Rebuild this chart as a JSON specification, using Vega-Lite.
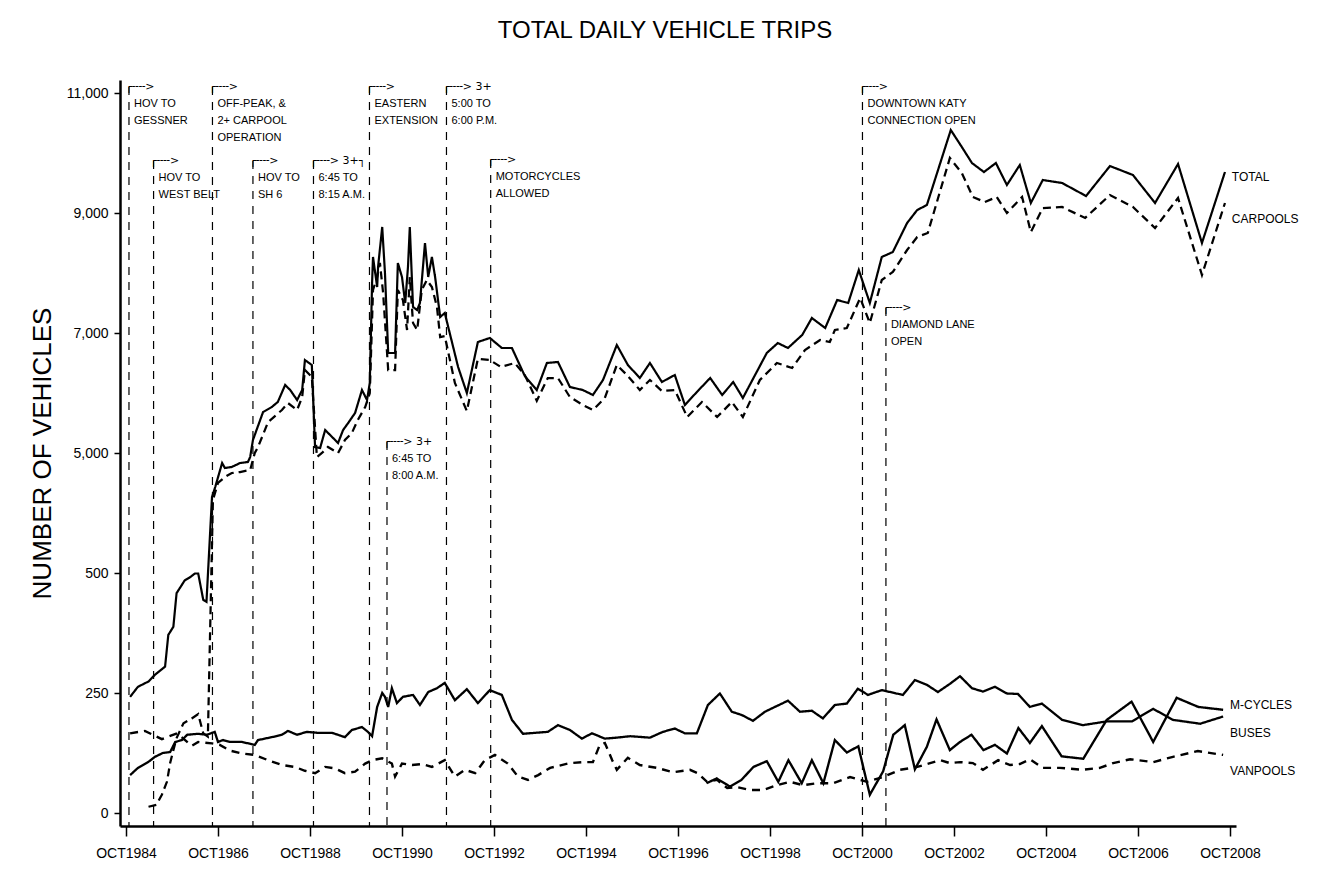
{
  "$schema": "https://vega.github.io/schema/vega-lite/v6.json",
  "width": 1116,
  "height": 746,
  "autosize": {"type": "none"},
  "padding": {"left": 120, "top": 80, "right": 87, "bottom": 47},
  "background": "white",
  "config": {"view": {"stroke": null}, "font": "Liberation Sans", "axis": {"grid": false}},
  "title": {"text": "TOTAL DAILY VEHICLE TRIPS", "fontSize": 24, "fontWeight": "normal", "font": "Liberation Sans", "color": "black", "anchor": "middle", "frame": "group", "dx": -13, "offset": 37},
  "datasets": {
    "annotations": [
      {"year": 1984.815, "top": 11100, "head": "┌╌╌>", "text": "HOV TO\nGESSNER"},
      {"year": 1985.35, "top": 9867, "head": "┌╌╌>", "text": "HOV TO\nWEST BELT"},
      {"year": 1986.63, "top": 11100, "head": "┌╌╌>", "text": "OFF-PEAK, &\n2+ CARPOOL\nOPERATION"},
      {"year": 1987.51, "top": 9867, "head": "┌╌╌>", "text": "HOV TO\nSH 6"},
      {"year": 1988.826, "top": 9867, "head": "┌╌╌> 3+┐", "text": "6:45 TO\n8:15 A.M."},
      {"year": 1990.043, "top": 11100, "head": "┌╌╌>", "text": "EASTERN\nEXTENSION"},
      {"year": 1990.424, "top": 5183, "head": "┌╌╌> 3+", "text": "6:45 TO\n8:00 A.M."},
      {"year": 1991.717, "top": 11100, "head": "┌╌╌> 3+", "text": "5:00 TO\n6:00 P.M."},
      {"year": 1992.678, "top": 9883, "head": "┌╌╌>", "text": "MOTORCYCLES\nALLOWED"},
      {"year": 2000.76, "top": 11100, "head": "┌╌╌>", "text": "DOWNTOWN  KATY\nCONNECTION OPEN"},
      {"year": 2001.27, "top": 7417, "head": "┌╌╌>", "text": "DIAMOND LANE\nOPEN"}
    ],
    "labels": [
      {"label": "TOTAL", "year": 2008.79, "count": 9600},
      {"label": "CARPOOLS", "year": 2008.79, "count": 8900},
      {"label": "M-CYCLES", "year": 2008.75, "count": 225},
      {"label": "BUSES", "year": 2008.75, "count": 167},
      {"label": "VANPOOLS", "year": 2008.75, "count": 88}
    ],
    "series": [
      {"series": "Total", "year": 1984.84, "count": 242},
      {"series": "Total", "year": 1985.01, "count": 263},
      {"series": "Total", "year": 1985.24, "count": 274},
      {"series": "Total", "year": 1985.38, "count": 288},
      {"series": "Total", "year": 1985.6, "count": 305},
      {"series": "Total", "year": 1985.67, "count": 371},
      {"series": "Total", "year": 1985.78, "count": 388},
      {"series": "Total", "year": 1985.85, "count": 458},
      {"series": "Total", "year": 1986.03, "count": 485},
      {"series": "Total", "year": 1986.14, "count": 491},
      {"series": "Total", "year": 1986.25, "count": 499},
      {"series": "Total", "year": 1986.32, "count": 499},
      {"series": "Total", "year": 1986.43, "count": 444},
      {"series": "Total", "year": 1986.5, "count": 440},
      {"series": "Total", "year": 1986.62, "count": 4267},
      {"series": "Total", "year": 1986.69, "count": 4433},
      {"series": "Total", "year": 1986.84, "count": 4833},
      {"series": "Total", "year": 1986.9, "count": 4750},
      {"series": "Total", "year": 1987.05, "count": 4767},
      {"series": "Total", "year": 1987.23, "count": 4833},
      {"series": "Total", "year": 1987.4, "count": 4850},
      {"series": "Total", "year": 1987.45, "count": 4933},
      {"series": "Total", "year": 1987.51, "count": 5217},
      {"series": "Total", "year": 1987.73, "count": 5683},
      {"series": "Total", "year": 1987.92, "count": 5767},
      {"series": "Total", "year": 1988.05, "count": 5850},
      {"series": "Total", "year": 1988.21, "count": 6133},
      {"series": "Total", "year": 1988.32, "count": 6050},
      {"series": "Total", "year": 1988.47, "count": 5883},
      {"series": "Total", "year": 1988.58, "count": 6050},
      {"series": "Total", "year": 1988.64, "count": 6550},
      {"series": "Total", "year": 1988.79, "count": 6467},
      {"series": "Total", "year": 1988.86, "count": 5100},
      {"series": "Total", "year": 1988.97, "count": 5083},
      {"series": "Total", "year": 1989.08, "count": 5383},
      {"series": "Total", "year": 1989.23, "count": 5267},
      {"series": "Total", "year": 1989.36, "count": 5167},
      {"series": "Total", "year": 1989.47, "count": 5383},
      {"series": "Total", "year": 1989.58, "count": 5500},
      {"series": "Total", "year": 1989.73, "count": 5667},
      {"series": "Total", "year": 1989.88, "count": 6050},
      {"series": "Total", "year": 1989.99, "count": 5883},
      {"series": "Total", "year": 1990.05, "count": 6167},
      {"series": "Total", "year": 1990.1, "count": 7833},
      {"series": "Total", "year": 1990.12, "count": 8267},
      {"series": "Total", "year": 1990.21, "count": 7767},
      {"series": "Total", "year": 1990.23, "count": 8100},
      {"series": "Total", "year": 1990.32, "count": 8767},
      {"series": "Total", "year": 1990.38, "count": 8000},
      {"series": "Total", "year": 1990.45, "count": 6667},
      {"series": "Total", "year": 1990.6, "count": 6667},
      {"series": "Total", "year": 1990.66, "count": 8167},
      {"series": "Total", "year": 1990.75, "count": 7933},
      {"series": "Total", "year": 1990.82, "count": 7500},
      {"series": "Total", "year": 1990.88, "count": 8100},
      {"series": "Total", "year": 1990.92, "count": 8767},
      {"series": "Total", "year": 1990.99, "count": 7433},
      {"series": "Total", "year": 1991.08, "count": 7383},
      {"series": "Total", "year": 1991.14, "count": 7500},
      {"series": "Total", "year": 1991.25, "count": 8500},
      {"series": "Total", "year": 1991.32, "count": 7933},
      {"series": "Total", "year": 1991.4, "count": 8267},
      {"series": "Total", "year": 1991.47, "count": 7933},
      {"series": "Total", "year": 1991.58, "count": 7267},
      {"series": "Total", "year": 1991.68, "count": 7333},
      {"series": "Total", "year": 1991.97, "count": 6433},
      {"series": "Total", "year": 1992.16, "count": 6000},
      {"series": "Total", "year": 1992.4, "count": 6850},
      {"series": "Total", "year": 1992.66, "count": 6917},
      {"series": "Total", "year": 1992.92, "count": 6750},
      {"series": "Total", "year": 1993.14, "count": 6750},
      {"series": "Total", "year": 1993.42, "count": 6283},
      {"series": "Total", "year": 1993.68, "count": 6050},
      {"series": "Total", "year": 1993.9, "count": 6500},
      {"series": "Total", "year": 1994.14, "count": 6517},
      {"series": "Total", "year": 1994.4, "count": 6100},
      {"series": "Total", "year": 1994.68, "count": 6050},
      {"series": "Total", "year": 1994.9, "count": 5967},
      {"series": "Total", "year": 1995.12, "count": 6217},
      {"series": "Total", "year": 1995.42, "count": 6800},
      {"series": "Total", "year": 1995.66, "count": 6467},
      {"series": "Total", "year": 1995.92, "count": 6250},
      {"series": "Total", "year": 1996.14, "count": 6500},
      {"series": "Total", "year": 1996.4, "count": 6183},
      {"series": "Total", "year": 1996.68, "count": 6300},
      {"series": "Total", "year": 1996.9, "count": 5800},
      {"series": "Total", "year": 1997.16, "count": 6017},
      {"series": "Total", "year": 1997.45, "count": 6250},
      {"series": "Total", "year": 1997.71, "count": 5967},
      {"series": "Total", "year": 1997.95, "count": 6183},
      {"series": "Total", "year": 1998.16, "count": 5917},
      {"series": "Total", "year": 1998.68, "count": 6667},
      {"series": "Total", "year": 1998.92, "count": 6833},
      {"series": "Total", "year": 1999.14, "count": 6750},
      {"series": "Total", "year": 1999.45, "count": 6967},
      {"series": "Total", "year": 1999.66, "count": 7250},
      {"series": "Total", "year": 1999.95, "count": 7083},
      {"series": "Total", "year": 2000.21, "count": 7550},
      {"series": "Total", "year": 2000.45, "count": 7500},
      {"series": "Total", "year": 2000.68, "count": 8050},
      {"series": "Total", "year": 2000.92, "count": 7500},
      {"series": "Total", "year": 2001.18, "count": 8267},
      {"series": "Total", "year": 2001.42, "count": 8350},
      {"series": "Total", "year": 2001.73, "count": 8833},
      {"series": "Total", "year": 2001.95, "count": 9050},
      {"series": "Total", "year": 2002.16, "count": 9133},
      {"series": "Total", "year": 2002.68, "count": 10383},
      {"series": "Total", "year": 2002.92, "count": 10100},
      {"series": "Total", "year": 2003.14, "count": 9833},
      {"series": "Total", "year": 2003.4, "count": 9683},
      {"series": "Total", "year": 2003.66, "count": 9833},
      {"series": "Total", "year": 2003.9, "count": 9467},
      {"series": "Total", "year": 2004.18, "count": 9800},
      {"series": "Total", "year": 2004.42, "count": 9167},
      {"series": "Total", "year": 2004.68, "count": 9550},
      {"series": "Total", "year": 2005.1, "count": 9500},
      {"series": "Total", "year": 2005.62, "count": 9283},
      {"series": "Total", "year": 2006.14, "count": 9783},
      {"series": "Total", "year": 2006.64, "count": 9633},
      {"series": "Total", "year": 2007.12, "count": 9167},
      {"series": "Total", "year": 2007.62, "count": 9817},
      {"series": "Total", "year": 2008.14, "count": 8500},
      {"series": "Total", "year": 2008.64, "count": 9683},

      {"series": "Carpools", "year": 1985.24, "count": 13},
      {"series": "Carpools", "year": 1985.41, "count": 17},
      {"series": "Carpools", "year": 1985.53, "count": 38},
      {"series": "Carpools", "year": 1985.64, "count": 65},
      {"series": "Carpools", "year": 1985.71, "count": 104},
      {"series": "Carpools", "year": 1985.78, "count": 131},
      {"series": "Carpools", "year": 1985.85, "count": 156},
      {"series": "Carpools", "year": 1986.0, "count": 187},
      {"series": "Carpools", "year": 1986.18, "count": 197},
      {"series": "Carpools", "year": 1986.32, "count": 206},
      {"series": "Carpools", "year": 1986.43, "count": 166},
      {"series": "Carpools", "year": 1986.53, "count": 159},
      {"series": "Carpools", "year": 1986.64, "count": 4217},
      {"series": "Carpools", "year": 1986.75, "count": 4500},
      {"series": "Carpools", "year": 1986.9, "count": 4600},
      {"series": "Carpools", "year": 1987.05, "count": 4667},
      {"series": "Carpools", "year": 1987.23, "count": 4683},
      {"series": "Carpools", "year": 1987.45, "count": 4717},
      {"series": "Carpools", "year": 1987.55, "count": 5000},
      {"series": "Carpools", "year": 1987.62, "count": 5100},
      {"series": "Carpools", "year": 1987.84, "count": 5517},
      {"series": "Carpools", "year": 1988.14, "count": 5717},
      {"series": "Carpools", "year": 1988.27, "count": 5833},
      {"series": "Carpools", "year": 1988.47, "count": 5717},
      {"series": "Carpools", "year": 1988.58, "count": 5933},
      {"series": "Carpools", "year": 1988.64, "count": 6383},
      {"series": "Carpools", "year": 1988.79, "count": 6267},
      {"series": "Carpools", "year": 1988.9, "count": 4933},
      {"series": "Carpools", "year": 1989.01, "count": 5000},
      {"series": "Carpools", "year": 1989.14, "count": 5100},
      {"series": "Carpools", "year": 1989.36, "count": 5000},
      {"series": "Carpools", "year": 1989.51, "count": 5217},
      {"series": "Carpools", "year": 1989.66, "count": 5333},
      {"series": "Carpools", "year": 1989.79, "count": 5550},
      {"series": "Carpools", "year": 1989.95, "count": 5767},
      {"series": "Carpools", "year": 1990.05, "count": 6000},
      {"series": "Carpools", "year": 1990.12, "count": 7717},
      {"series": "Carpools", "year": 1990.21, "count": 7933},
      {"series": "Carpools", "year": 1990.27, "count": 8167},
      {"series": "Carpools", "year": 1990.34, "count": 7667},
      {"series": "Carpools", "year": 1990.45, "count": 6383},
      {"series": "Carpools", "year": 1990.6, "count": 6383},
      {"series": "Carpools", "year": 1990.66, "count": 7717},
      {"series": "Carpools", "year": 1990.77, "count": 7550},
      {"series": "Carpools", "year": 1990.86, "count": 7050},
      {"series": "Carpools", "year": 1990.92, "count": 7933},
      {"series": "Carpools", "year": 1990.99, "count": 7167},
      {"series": "Carpools", "year": 1991.08, "count": 7050},
      {"series": "Carpools", "year": 1991.18, "count": 7717},
      {"series": "Carpools", "year": 1991.29, "count": 7883},
      {"series": "Carpools", "year": 1991.4, "count": 7767},
      {"series": "Carpools", "year": 1991.51, "count": 7433},
      {"series": "Carpools", "year": 1991.58, "count": 6933},
      {"series": "Carpools", "year": 1991.68, "count": 6950},
      {"series": "Carpools", "year": 1991.9, "count": 6167},
      {"series": "Carpools", "year": 1992.16, "count": 5700},
      {"series": "Carpools", "year": 1992.4, "count": 6570},
      {"series": "Carpools", "year": 1992.66, "count": 6550},
      {"series": "Carpools", "year": 1992.9, "count": 6433},
      {"series": "Carpools", "year": 1993.2, "count": 6500},
      {"series": "Carpools", "year": 1993.42, "count": 6300},
      {"series": "Carpools", "year": 1993.68, "count": 5870},
      {"series": "Carpools", "year": 1993.92, "count": 6250},
      {"series": "Carpools", "year": 1994.14, "count": 6250},
      {"series": "Carpools", "year": 1994.4, "count": 5933},
      {"series": "Carpools", "year": 1994.68, "count": 5800},
      {"series": "Carpools", "year": 1994.9, "count": 5717},
      {"series": "Carpools", "year": 1995.16, "count": 5917},
      {"series": "Carpools", "year": 1995.42, "count": 6467},
      {"series": "Carpools", "year": 1995.64, "count": 6300},
      {"series": "Carpools", "year": 1995.92, "count": 6050},
      {"series": "Carpools", "year": 1996.14, "count": 6217},
      {"series": "Carpools", "year": 1996.4, "count": 6033},
      {"series": "Carpools", "year": 1996.68, "count": 6050},
      {"series": "Carpools", "year": 1996.95, "count": 5600},
      {"series": "Carpools", "year": 1997.27, "count": 5850},
      {"series": "Carpools", "year": 1997.6, "count": 5600},
      {"series": "Carpools", "year": 1997.92, "count": 5850},
      {"series": "Carpools", "year": 1998.16, "count": 5600},
      {"series": "Carpools", "year": 1998.53, "count": 6217},
      {"series": "Carpools", "year": 1998.9, "count": 6500},
      {"series": "Carpools", "year": 1999.23, "count": 6417},
      {"series": "Carpools", "year": 1999.51, "count": 6717},
      {"series": "Carpools", "year": 1999.84, "count": 6883},
      {"series": "Carpools", "year": 2000.05, "count": 6850},
      {"series": "Carpools", "year": 2000.16, "count": 7050},
      {"series": "Carpools", "year": 2000.42, "count": 7083},
      {"series": "Carpools", "year": 2000.71, "count": 7583},
      {"series": "Carpools", "year": 2000.92, "count": 7167},
      {"series": "Carpools", "year": 2001.18, "count": 7883},
      {"series": "Carpools", "year": 2001.42, "count": 8017},
      {"series": "Carpools", "year": 2001.73, "count": 8383},
      {"series": "Carpools", "year": 2001.95, "count": 8600},
      {"series": "Carpools", "year": 2002.18, "count": 8667},
      {"series": "Carpools", "year": 2002.66, "count": 9917},
      {"series": "Carpools", "year": 2002.92, "count": 9667},
      {"series": "Carpools", "year": 2003.16, "count": 9267},
      {"series": "Carpools", "year": 2003.42, "count": 9183},
      {"series": "Carpools", "year": 2003.68, "count": 9267},
      {"series": "Carpools", "year": 2003.9, "count": 9000},
      {"series": "Carpools", "year": 2004.23, "count": 9267},
      {"series": "Carpools", "year": 2004.42, "count": 8683},
      {"series": "Carpools", "year": 2004.68, "count": 9083},
      {"series": "Carpools", "year": 2005.1, "count": 9100},
      {"series": "Carpools", "year": 2005.6, "count": 8917},
      {"series": "Carpools", "year": 2006.14, "count": 9300},
      {"series": "Carpools", "year": 2006.64, "count": 9100},
      {"series": "Carpools", "year": 2007.12, "count": 8750},
      {"series": "Carpools", "year": 2007.62, "count": 9250},
      {"series": "Carpools", "year": 2008.14, "count": 7967},
      {"series": "Carpools", "year": 2008.64, "count": 9167},

      {"series": "Buses", "year": 1984.84, "count": 79},
      {"series": "Buses", "year": 1985.01, "count": 94},
      {"series": "Buses", "year": 1985.23, "count": 106},
      {"series": "Buses", "year": 1985.38, "count": 117},
      {"series": "Buses", "year": 1985.55, "count": 125},
      {"series": "Buses", "year": 1985.71, "count": 127},
      {"series": "Buses", "year": 1985.82, "count": 148},
      {"series": "Buses", "year": 1985.97, "count": 152},
      {"series": "Buses", "year": 1986.08, "count": 163},
      {"series": "Buses", "year": 1986.32, "count": 165},
      {"series": "Buses", "year": 1986.51, "count": 163},
      {"series": "Buses", "year": 1986.68, "count": 169},
      {"series": "Buses", "year": 1986.75, "count": 148},
      {"series": "Buses", "year": 1986.86, "count": 152},
      {"series": "Buses", "year": 1987.01, "count": 148},
      {"series": "Buses", "year": 1987.27, "count": 148},
      {"series": "Buses", "year": 1987.55, "count": 142},
      {"series": "Buses", "year": 1987.62, "count": 152},
      {"series": "Buses", "year": 1987.92, "count": 158},
      {"series": "Buses", "year": 1988.14, "count": 163},
      {"series": "Buses", "year": 1988.27, "count": 171},
      {"series": "Buses", "year": 1988.47, "count": 163},
      {"series": "Buses", "year": 1988.68, "count": 169},
      {"series": "Buses", "year": 1988.92, "count": 167},
      {"series": "Buses", "year": 1989.23, "count": 167},
      {"series": "Buses", "year": 1989.51, "count": 158},
      {"series": "Buses", "year": 1989.66, "count": 173},
      {"series": "Buses", "year": 1989.88, "count": 179},
      {"series": "Buses", "year": 1990.01, "count": 169},
      {"series": "Buses", "year": 1990.1, "count": 160},
      {"series": "Buses", "year": 1990.21, "count": 221},
      {"series": "Buses", "year": 1990.32, "count": 250},
      {"series": "Buses", "year": 1990.38, "count": 242},
      {"series": "Buses", "year": 1990.45, "count": 221},
      {"series": "Buses", "year": 1990.53, "count": 260},
      {"series": "Buses", "year": 1990.64, "count": 229},
      {"series": "Buses", "year": 1990.77, "count": 242},
      {"series": "Buses", "year": 1990.99, "count": 246},
      {"series": "Buses", "year": 1991.14, "count": 225},
      {"series": "Buses", "year": 1991.32, "count": 252},
      {"series": "Buses", "year": 1991.51, "count": 260},
      {"series": "Buses", "year": 1991.68, "count": 271},
      {"series": "Buses", "year": 1991.9, "count": 235},
      {"series": "Buses", "year": 1992.16, "count": 258},
      {"series": "Buses", "year": 1992.4, "count": 229},
      {"series": "Buses", "year": 1992.66, "count": 256},
      {"series": "Buses", "year": 1992.92, "count": 246},
      {"series": "Buses", "year": 1993.14, "count": 194},
      {"series": "Buses", "year": 1993.38, "count": 165},
      {"series": "Buses", "year": 1993.64, "count": 167},
      {"series": "Buses", "year": 1993.92, "count": 169},
      {"series": "Buses", "year": 1994.14, "count": 183},
      {"series": "Buses", "year": 1994.4, "count": 173},
      {"series": "Buses", "year": 1994.66, "count": 155},
      {"series": "Buses", "year": 1994.88, "count": 166},
      {"series": "Buses", "year": 1995.16, "count": 155},
      {"series": "Buses", "year": 1995.42, "count": 157},
      {"series": "Buses", "year": 1995.71, "count": 160},
      {"series": "Buses", "year": 1996.14, "count": 157},
      {"series": "Buses", "year": 1996.42, "count": 169},
      {"series": "Buses", "year": 1996.68, "count": 176},
      {"series": "Buses", "year": 1996.9, "count": 166},
      {"series": "Buses", "year": 1997.16, "count": 166},
      {"series": "Buses", "year": 1997.4, "count": 225},
      {"series": "Buses", "year": 1997.66, "count": 249},
      {"series": "Buses", "year": 1997.92, "count": 211},
      {"series": "Buses", "year": 1998.14, "count": 204},
      {"series": "Buses", "year": 1998.38, "count": 192},
      {"series": "Buses", "year": 1998.64, "count": 211},
      {"series": "Buses", "year": 1999.14, "count": 234},
      {"series": "Buses", "year": 1999.4, "count": 211},
      {"series": "Buses", "year": 1999.66, "count": 213},
      {"series": "Buses", "year": 1999.9, "count": 197},
      {"series": "Buses", "year": 2000.16, "count": 225},
      {"series": "Buses", "year": 2000.42, "count": 228},
      {"series": "Buses", "year": 2000.66, "count": 259},
      {"series": "Buses", "year": 2000.88, "count": 246},
      {"series": "Buses", "year": 2001.18, "count": 256},
      {"series": "Buses", "year": 2001.64, "count": 246},
      {"series": "Buses", "year": 2001.9, "count": 277},
      {"series": "Buses", "year": 2002.16, "count": 267},
      {"series": "Buses", "year": 2002.4, "count": 252},
      {"series": "Buses", "year": 2002.66, "count": 269},
      {"series": "Buses", "year": 2002.88, "count": 285},
      {"series": "Buses", "year": 2003.14, "count": 260},
      {"series": "Buses", "year": 2003.38, "count": 253},
      {"series": "Buses", "year": 2003.64, "count": 263},
      {"series": "Buses", "year": 2003.9, "count": 249},
      {"series": "Buses", "year": 2004.14, "count": 248},
      {"series": "Buses", "year": 2004.4, "count": 221},
      {"series": "Buses", "year": 2004.66, "count": 228},
      {"series": "Buses", "year": 2005.1, "count": 194},
      {"series": "Buses", "year": 2005.55, "count": 183},
      {"series": "Buses", "year": 2006.08, "count": 191},
      {"series": "Buses", "year": 2006.62, "count": 191},
      {"series": "Buses", "year": 2007.08, "count": 217},
      {"series": "Buses", "year": 2007.51, "count": 194},
      {"series": "Buses", "year": 2008.1, "count": 186},
      {"series": "Buses", "year": 2008.6, "count": 201},

      {"series": "Vanpools", "year": 1984.84, "count": 166},
      {"series": "Vanpools", "year": 1985.16, "count": 171},
      {"series": "Vanpools", "year": 1985.53, "count": 154},
      {"series": "Vanpools", "year": 1985.86, "count": 166},
      {"series": "Vanpools", "year": 1986.18, "count": 140},
      {"series": "Vanpools", "year": 1986.32, "count": 148},
      {"series": "Vanpools", "year": 1986.62, "count": 145},
      {"series": "Vanpools", "year": 1986.79, "count": 142},
      {"series": "Vanpools", "year": 1987.01, "count": 130},
      {"series": "Vanpools", "year": 1987.27, "count": 124},
      {"series": "Vanpools", "year": 1987.55, "count": 121},
      {"series": "Vanpools", "year": 1987.84, "count": 110},
      {"series": "Vanpools", "year": 1988.14, "count": 100},
      {"series": "Vanpools", "year": 1988.42, "count": 96},
      {"series": "Vanpools", "year": 1988.64, "count": 88},
      {"series": "Vanpools", "year": 1988.86, "count": 83},
      {"series": "Vanpools", "year": 1989.08, "count": 96},
      {"series": "Vanpools", "year": 1989.29, "count": 93},
      {"series": "Vanpools", "year": 1989.51, "count": 83},
      {"series": "Vanpools", "year": 1989.73, "count": 86},
      {"series": "Vanpools", "year": 1989.95, "count": 103},
      {"series": "Vanpools", "year": 1990.1, "count": 110},
      {"series": "Vanpools", "year": 1990.32, "count": 114},
      {"series": "Vanpools", "year": 1990.53, "count": 103},
      {"series": "Vanpools", "year": 1990.6, "count": 76},
      {"series": "Vanpools", "year": 1990.75, "count": 103},
      {"series": "Vanpools", "year": 1990.97, "count": 100},
      {"series": "Vanpools", "year": 1991.18, "count": 102},
      {"series": "Vanpools", "year": 1991.4, "count": 96},
      {"series": "Vanpools", "year": 1991.68, "count": 110},
      {"series": "Vanpools", "year": 1991.9, "count": 76},
      {"series": "Vanpools", "year": 1992.12, "count": 90},
      {"series": "Vanpools", "year": 1992.34, "count": 83},
      {"series": "Vanpools", "year": 1992.55, "count": 110},
      {"series": "Vanpools", "year": 1992.77, "count": 121},
      {"series": "Vanpools", "year": 1993.05, "count": 103},
      {"series": "Vanpools", "year": 1993.27, "count": 76},
      {"series": "Vanpools", "year": 1993.49, "count": 69},
      {"series": "Vanpools", "year": 1993.71, "count": 79},
      {"series": "Vanpools", "year": 1993.97, "count": 94},
      {"series": "Vanpools", "year": 1994.4, "count": 104},
      {"series": "Vanpools", "year": 1994.68, "count": 106},
      {"series": "Vanpools", "year": 1994.9, "count": 106},
      {"series": "Vanpools", "year": 1995.05, "count": 142},
      {"series": "Vanpools", "year": 1995.16, "count": 146},
      {"series": "Vanpools", "year": 1995.32, "count": 110},
      {"series": "Vanpools", "year": 1995.42, "count": 90},
      {"series": "Vanpools", "year": 1995.66, "count": 115},
      {"series": "Vanpools", "year": 1995.92, "count": 100},
      {"series": "Vanpools", "year": 1996.29, "count": 94},
      {"series": "Vanpools", "year": 1996.64, "count": 85},
      {"series": "Vanpools", "year": 1997.01, "count": 90},
      {"series": "Vanpools", "year": 1997.18, "count": 83},
      {"series": "Vanpools", "year": 1997.38, "count": 65},
      {"series": "Vanpools", "year": 1997.6, "count": 69},
      {"series": "Vanpools", "year": 1997.82, "count": 52},
      {"series": "Vanpools", "year": 1998.03, "count": 54},
      {"series": "Vanpools", "year": 1998.32, "count": 48},
      {"series": "Vanpools", "year": 1998.6, "count": 48},
      {"series": "Vanpools", "year": 1998.9, "count": 58},
      {"series": "Vanpools", "year": 1999.18, "count": 65},
      {"series": "Vanpools", "year": 1999.47, "count": 58},
      {"series": "Vanpools", "year": 1999.77, "count": 62},
      {"series": "Vanpools", "year": 2000.12, "count": 62},
      {"series": "Vanpools", "year": 2000.49, "count": 75},
      {"series": "Vanpools", "year": 2000.86, "count": 65},
      {"series": "Vanpools", "year": 2001.21, "count": 75},
      {"series": "Vanpools", "year": 2001.58, "count": 90},
      {"series": "Vanpools", "year": 2001.95, "count": 96},
      {"series": "Vanpools", "year": 2002.45, "count": 110},
      {"series": "Vanpools", "year": 2002.66, "count": 104},
      {"series": "Vanpools", "year": 2002.88, "count": 106},
      {"series": "Vanpools", "year": 2003.16, "count": 104},
      {"series": "Vanpools", "year": 2003.38, "count": 90},
      {"series": "Vanpools", "year": 2003.71, "count": 110},
      {"series": "Vanpools", "year": 2003.97, "count": 100},
      {"series": "Vanpools", "year": 2004.18, "count": 102},
      {"series": "Vanpools", "year": 2004.4, "count": 112},
      {"series": "Vanpools", "year": 2004.68, "count": 94},
      {"series": "Vanpools", "year": 2005.05, "count": 94},
      {"series": "Vanpools", "year": 2005.55, "count": 90},
      {"series": "Vanpools", "year": 2005.92, "count": 94},
      {"series": "Vanpools", "year": 2006.21, "count": 104},
      {"series": "Vanpools", "year": 2006.58, "count": 112},
      {"series": "Vanpools", "year": 2007.08, "count": 106},
      {"series": "Vanpools", "year": 2007.51, "count": 117},
      {"series": "Vanpools", "year": 2008.05, "count": 129},
      {"series": "Vanpools", "year": 2008.6, "count": 121},

      {"series": "M-Cycles", "year": 1997.37, "count": 62},
      {"series": "M-Cycles", "year": 1997.59, "count": 72},
      {"series": "M-Cycles", "year": 1997.88, "count": 55},
      {"series": "M-Cycles", "year": 1998.13, "count": 69},
      {"series": "M-Cycles", "year": 1998.39, "count": 96},
      {"series": "M-Cycles", "year": 1998.68, "count": 108},
      {"series": "M-Cycles", "year": 1998.93, "count": 65},
      {"series": "M-Cycles", "year": 1999.15, "count": 110},
      {"series": "M-Cycles", "year": 1999.44, "count": 62},
      {"series": "M-Cycles", "year": 1999.66, "count": 110},
      {"series": "M-Cycles", "year": 1999.91, "count": 62},
      {"series": "M-Cycles", "year": 2000.16, "count": 152},
      {"series": "M-Cycles", "year": 2000.42, "count": 126},
      {"series": "M-Cycles", "year": 2000.67, "count": 139},
      {"series": "M-Cycles", "year": 2000.92, "count": 38},
      {"series": "M-Cycles", "year": 2001.21, "count": 87},
      {"series": "M-Cycles", "year": 2001.43, "count": 163},
      {"series": "M-Cycles", "year": 2001.68, "count": 183},
      {"series": "M-Cycles", "year": 2001.9, "count": 91},
      {"series": "M-Cycles", "year": 2002.16, "count": 138},
      {"series": "M-Cycles", "year": 2002.37, "count": 195},
      {"series": "M-Cycles", "year": 2002.66, "count": 131},
      {"series": "M-Cycles", "year": 2002.88, "count": 148},
      {"series": "M-Cycles", "year": 2003.13, "count": 163},
      {"series": "M-Cycles", "year": 2003.39, "count": 131},
      {"series": "M-Cycles", "year": 2003.64, "count": 142},
      {"series": "M-Cycles", "year": 2003.9, "count": 124},
      {"series": "M-Cycles", "year": 2004.15, "count": 177},
      {"series": "M-Cycles", "year": 2004.4, "count": 146},
      {"series": "M-Cycles", "year": 2004.66, "count": 181},
      {"series": "M-Cycles", "year": 2005.09, "count": 118},
      {"series": "M-Cycles", "year": 2005.56, "count": 113},
      {"series": "M-Cycles", "year": 2006.07, "count": 194},
      {"series": "M-Cycles", "year": 2006.61, "count": 232},
      {"series": "M-Cycles", "year": 2007.08, "count": 148},
      {"series": "M-Cycles", "year": 2007.59, "count": 240},
      {"series": "M-Cycles", "year": 2008.06, "count": 221},
      {"series": "M-Cycles", "year": 2008.6, "count": 215}
    ]
  },
  "layer": [
    {
      "data": {"name": "series"},
      "mark": {"type": "line", "color": "black", "strokeCap": "butt", "strokeJoin": "miter"},
      "encoding": {
        "x": {"field": "year", "type": "quantitative",
          "scale": {"domain": [1984.62, 2008.88], "nice": false, "zero": false},
          "axis": {"values": [1984.75, 1986.75, 1988.75, 1990.75, 1992.75, 1994.75, 1996.75, 1998.75, 2000.75, 2002.75, 2004.75, 2006.75, 2008.75],
            "labelExpr": "'OCT' + floor(datum.value)", "title": null, "labelFontSize": 14, "labelFont": "Liberation Sans", "labelColor": "black",
            "labelPadding": 10, "tickSize": 10, "tickWidth": 1.5, "tickColor": "black", "domainColor": "black", "domainWidth": 2.5,
            "labelFlush": false, "labelOverlap": false, "grid": false}},
        "y": {"field": "count", "type": "quantitative",
          "scale": {"domain": [-27.08, 500, 3000, 11216.7], "range": [746, 493, 493, 0], "nice": false, "zero": false},
          "axis": {"values": [0, 250, 500, 5000, 7000, 9000, 11000], "labelExpr": "format(datum.value, ',')", "title": "NUMBER OF VEHICLES",
            "titleFontSize": 26, "titleFont": "Liberation Sans", "titleFontWeight": "normal", "titleColor": "black", "titlePadding": 11,
            "labelFontSize": 14, "labelFont": "Liberation Sans", "labelColor": "black", "labelPadding": 6, "tickSize": 6, "tickWidth": 1.5,
            "tickColor": "black", "domainColor": "black", "domainWidth": 2.5, "labelOverlap": false, "grid": false}},
        "detail": {"field": "series", "type": "nominal"},
        "strokeDash": {"field": "series", "type": "nominal", "legend": null,
          "scale": {"domain": ["Total", "Carpools", "Buses", "M-Cycles", "Vanpools"], "range": [[1, 0], [8, 5], [1, 0], [1, 0], [8, 6]]}},
        "strokeWidth": {"field": "series", "type": "nominal", "legend": null,
          "scale": {"domain": ["Total", "Carpools", "Buses", "M-Cycles", "Vanpools"], "range": [2.2, 2.4, 1.6, 1.6, 2]}}
      }
    },
    {
      "mark": {"type": "rule", "color": "black", "strokeWidth": 1.2},
      "encoding": {
        "y": {"datum": 500, "type": "quantitative"}
      }
    },
    {
      "mark": {"type": "text", "text": "CHANGE OF SCALE", "align": "right", "baseline": "middle", "dy": -16, "fontSize": 12, "font": "Liberation Sans", "color": "black"},
      "encoding": {
        "x": {"datum": 2008.03, "type": "quantitative"},
        "y": {"datum": 500, "type": "quantitative"}
      }
    },
    {
      "data": {"name": "annotations"},
      "mark": {"type": "rule", "color": "black", "strokeWidth": 1.2, "strokeDash": [8, 7]},
      "encoding": {
        "x": {"field": "year", "type": "quantitative"},
        "y": {"field": "top", "type": "quantitative"},
        "y2": {"datum": -27.08}
      }
    },
    {
      "data": {"name": "annotations"},
      "mark": {"type": "text", "align": "left", "baseline": "middle", "dx": -3.5, "fontSize": 11, "font": "DejaVu Sans", "color": "black"},
      "encoding": {
        "x": {"field": "year", "type": "quantitative"},
        "y": {"field": "top", "type": "quantitative"},
        "text": {"field": "head", "type": "nominal"}
      }
    },
    {
      "data": {"name": "annotations"},
      "mark": {"type": "text", "align": "left", "baseline": "top", "dx": 5, "dy": 11, "lineHeight": 17, "lineBreak": "\n", "fontSize": 11, "font": "Liberation Sans", "color": "black"},
      "encoding": {
        "x": {"field": "year", "type": "quantitative"},
        "y": {"field": "top", "type": "quantitative"},
        "text": {"field": "text", "type": "nominal"}
      }
    },
    {
      "data": {"name": "labels"},
      "mark": {"type": "text", "align": "left", "baseline": "middle", "fontSize": 12, "font": "Liberation Sans", "color": "black"},
      "encoding": {
        "x": {"field": "year", "type": "quantitative"},
        "y": {"field": "count", "type": "quantitative"},
        "text": {"field": "label", "type": "nominal"}
      }
    }
  ]
}
